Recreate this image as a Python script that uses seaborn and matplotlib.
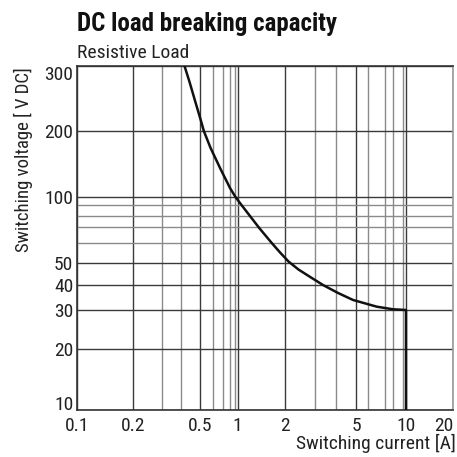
import numpy as np
import pandas as pd
import matplotlib
matplotlib.use("Agg")
import matplotlib.pyplot as plt
import seaborn as sns

# ---------------- data ----------------
current_a = [0.418, 0.443, 0.474, 0.505, 0.527, 0.578, 0.666, 0.80, 0.918, 1.057, 1.206,
             1.376, 1.641, 1.859, 2.097, 2.40, 2.804, 3.347, 4.09, 4.836, 6.486, 7.96,
             10.0, 10.0]
voltage_v = [300, 271.6, 239.7, 214.2, 200, 167.2, 135.3, 109.6, 99.6, 90, 79.1,
             69.3, 60, 54.9, 50.55, 46.7, 43.4, 40, 36.5, 33.67, 31.17, 30.25,
             30, 10]

x_major = [0.1, 0.2, 0.5, 1, 2, 5, 10, 20]
x_major_labels = ["0.1", "0.2", "0.5", "1", "2", "5", "10", "20"]
x_minor = [0.3, 0.4, 0.6, 0.7, 0.8, 0.9, 3, 4, 6, 7, 8, 9]
y_major = [10, 20, 30, 40, 50, 100, 200, 300]
y_major_labels = ["10", "20", "30", "40", "50", "100", "200", "300"]
y_minor = [60, 70, 80, 90]

title = "DC load breaking capacity"
subtitle = "Resistive Load"
x_label = "Switching current [A]"
y_label = "Switching voltage [ V DC]"

# ------- axis calibration of the printed (hand drawn) log grid -------
W = H = 457
x_cal_vals = [0.1, 0.2, 0.3, 0.4, 0.5, 0.6, 0.7, 0.8, 0.9, 1, 2, 3, 4, 5, 6, 7, 8, 9, 10, 20]
x_cal_pix = [76.7, 133.3, 161.7, 180.7, 200, 213.3, 223.3, 230, 235, 237.7,
             285, 315, 336, 356, 368.3, 385, 393.3, 402.7, 406, 453.3]
y_cal_vals = [10, 20, 30, 40, 50, 60, 70, 80, 90, 100, 200, 300]
y_cal_pix = [410, 349.3, 310, 285, 262.7, 242.7, 227.3, 215.7, 205, 196.7, 131, 66]


def make_scale(vals, pos):
    lv = np.log10(np.asarray(vals, float))
    p = np.asarray(pos, float)
    s0 = (p[1] - p[0]) / (lv[1] - lv[0])
    s1 = (p[-1] - p[-2]) / (lv[-1] - lv[-2])

    def fwd(v):
        v = np.asarray(v, float)
        l = np.log10(np.clip(v, 1e-12, None))
        out = np.interp(l, lv, p)
        out = np.where(l < lv[0], p[0] + (l - lv[0]) * s0, out)
        out = np.where(l > lv[-1], p[-1] + (l - lv[-1]) * s1, out)
        return out

    def inv(t):
        t = np.asarray(t, float)
        l = np.interp(t, p, lv)
        l = np.where(t < p[0], lv[0] + (t - p[0]) / s0, l)
        l = np.where(t > p[-1], lv[-1] + (t - p[-1]) / s1, l)
        return 10 ** l

    return fwd, inv


xf, xi = make_scale(x_cal_vals, x_cal_pix)
yf, yi = make_scale(y_cal_vals, [-v for v in y_cal_pix])

# ---------------- figure ----------------
sns.set_style("white")
plt.rcParams["font.family"] = ["Roboto Condensed", "DejaVu Sans"]

fig = plt.figure(figsize=(W / 100, H / 100), dpi=100)
left, right, top, bottom = 76.7, 453.3, 66, 410
ax = fig.add_axes([left / W, 1 - bottom / H, (right - left) / W, (bottom - top) / H])
ax.set_xscale("function", functions=(xf, xi))
ax.set_yscale("function", functions=(yf, yi))
ax.set_xlim(0.1, 20)
ax.set_ylim(10, 300)

df = pd.DataFrame({"current": current_a, "voltage": voltage_v})

ax.set_xticks(x_major)
ax.set_xticklabels(x_major_labels)
ax.set_xticks(x_minor, minor=True)
ax.set_yticks(y_major)
ax.set_yticklabels(y_major_labels)
ax.set_yticks(y_minor, minor=True)
ax.tick_params(which="both", length=0)
ax.tick_params(axis="x", pad=5, labelsize=14, colors="#222222")
ax.tick_params(axis="y", pad=2.5, labelsize=14, colors="#222222")

ax.grid(True, which="major", color="#3a3a3a", linewidth=1.0)
ax.grid(True, which="minor", color="#8a8a8a", linewidth=1.0)
ax.set_axisbelow(True)

sns.lineplot(data=df, x="current", y="voltage", sort=False, estimator=None,
             color="#111111", linewidth=1.8, ax=ax, zorder=5)
ax.set_xlabel("")
ax.set_ylabel("")

for side in ["left", "bottom", "top"]:
    ax.spines[side].set_color("#333333")
    ax.spines[side].set_linewidth(1.2)
ax.spines["right"].set_color("#9a9a9a")
ax.spines["right"].set_linewidth(1.2)

xl = ax.get_xticklabels()
xl[-1].set_horizontalalignment("right")
yl = ax.get_yticklabels()
yl[-1].set_verticalalignment("top")
yl[0].set_verticalalignment("baseline")

fig.text(77 / W, 1 - 31.5 / H, title, fontsize=18, fontweight="bold",
         ha="left", va="baseline", color="#111111")
fig.text(77 / W, 1 - 58.3 / H, subtitle, fontsize=14, ha="left", va="baseline",
         color="#222222")
fig.text(23 / W, 1 - 160 / H, y_label, fontsize=13.5, rotation=90, ha="center",
         va="center", color="#222222")
fig.text(456 / W, 1 - 443 / H, x_label, fontsize=14, ha="right", va="center",
         color="#222222")

fig.savefig("out.png", dpi=100)
